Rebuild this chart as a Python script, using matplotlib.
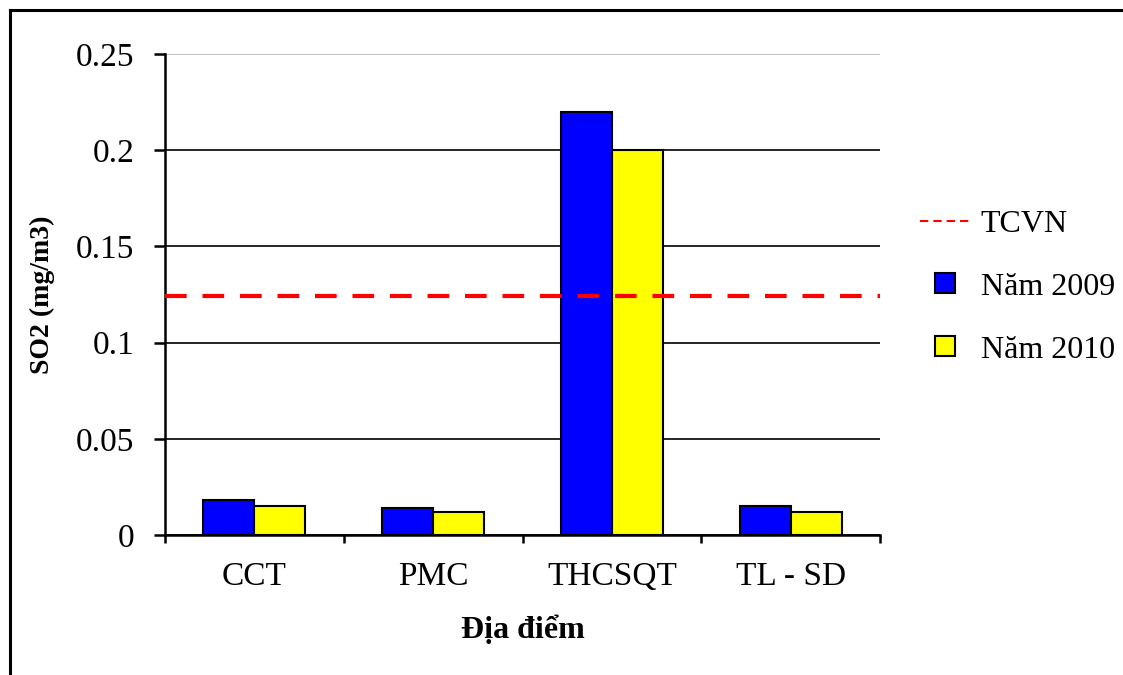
import numpy as np
import matplotlib
matplotlib.use('Agg')
import matplotlib.pyplot as plt
from matplotlib.lines import Line2D

# data
sites = ['CCT', 'PMC', 'THCSQT', 'TL - SD']
so2_2009 = [0.018, 0.014, 0.220, 0.015]
so2_2010 = [0.015, 0.012, 0.200, 0.012]
tcvn = 0.124
yticks = [0, 0.05, 0.1, 0.15, 0.2, 0.25]
ytick_labels = ['0', '0.05', '0.1', '0.15', '0.2', '0.25']

plt.rcParams['font.family'] = ['Liberation Serif', 'DejaVu Serif']

fig = plt.figure(figsize=(11.23, 6.75), dpi=100)
ax = fig.add_axes([165/1123, 1-535/675, 715/1123, 481/675])

x = np.arange(len(sites))
w = 0.285
ax.bar(x - w/2, so2_2009, width=w, color='#0000ff', edgecolor='black', linewidth=1.5, zorder=3, label='Năm 2009')
ax.bar(x + w/2, so2_2010, width=w, color='#ffff00', edgecolor='black', linewidth=1.5, zorder=3, label='Năm 2010')
ax.axhline(tcvn, color='#ff0000', linewidth=3, dashes=(5.2, 3.8), zorder=4)

ax.set_xlim(-0.5, len(sites) - 0.5)
ax.set_ylim(0, 0.25)
ax.set_yticks(yticks)
ax.set_yticklabels(ytick_labels)
ax.set_xticks(x)
ax.set_xticklabels(sites)
ax.set_xticks(np.arange(len(sites) + 1) - 0.5, minor=True)

ax.tick_params(axis='x', which='major', length=0, pad=19, labelsize=24)
ax.tick_params(axis='x', which='minor', length=6, width=1.8, direction='out')
ax.tick_params(axis='y', length=8, width=1.8, direction='out', pad=14, labelsize=24)

ax.yaxis.grid(True, color='black', linewidth=1.2, zorder=0)
ax.set_axisbelow(True)
ax.get_ygridlines()[-1].set_color('#b8b8b8')

for s in ['top', 'right']:
    ax.spines[s].set_visible(False)
for s in ['left', 'bottom']:
    ax.spines[s].set_linewidth(1.8)

ax.set_ylabel('SO2 (mg/m3)', fontsize=20, fontweight='bold')
ax.yaxis.set_label_coords((55 - 165) / 715, 0.5)
ax.set_xlabel('Địa điểm', fontsize=23, fontweight='bold')
ax.xaxis.set_label_coords(0.5, -(615 - 535) / 481)

handles = [
    Line2D([], [], color='#ff0000', linewidth=1.5, dashes=(4, 2.4)),
    Line2D([], [], marker='s', markersize=14, markerfacecolor='#0000ff', markeredgecolor='black',
           markeredgewidth=1.5, linestyle='none'),
    Line2D([], [], marker='s', markersize=14, markerfacecolor='#ffff00', markeredgecolor='black',
           markeredgewidth=1.5, linestyle='none'),
]
fig.legend(handles, ['TCVN', 'Năm 2009', 'Năm 2010'], loc='center left',
           bbox_to_anchor=(920/1123, 1-287/675), frameon=False, fontsize=23,
           borderpad=0, borderaxespad=0,
           handlelength=1.55, handletextpad=0.35, labelspacing=1.05)

# outer frame (only left and top edges are visible)
fig.add_artist(Line2D([10/1123, 10/1123], [0, 1-10/675], color='black', linewidth=2.2))
fig.add_artist(Line2D([10/1123, 1], [1-10/675, 1-10/675], color='black', linewidth=2.2))

fig.savefig('out.png', dpi=100)
